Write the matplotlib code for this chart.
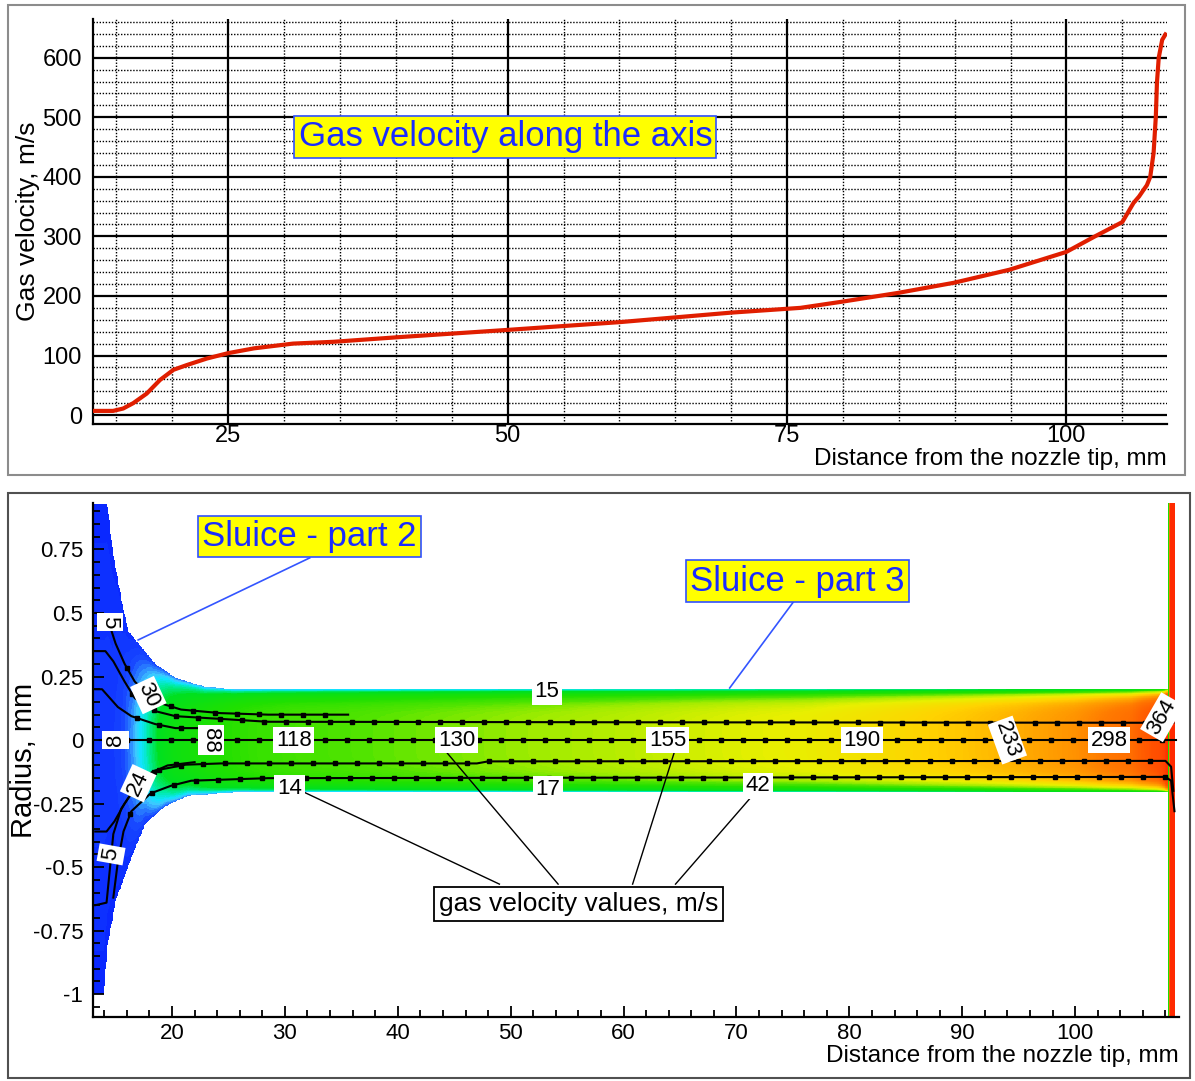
import numpy as np
import matplotlib as mpl
mpl.use('Agg')
from matplotlib import pyplot as plt
from matplotlib.colors import LinearSegmentedColormap, Normalize
from matplotlib.patches import Rectangle

plt.rcParams['font.family'] = ['Liberation Sans', 'DejaVu Sans']

# ---- top chart: gas velocity along the axis ----
dist = [12.9, 14.7, 15.6, 16.5, 17.7, 18.9, 20.1, 21.3, 23.1, 25.0, 27.3, 30.8, 34.4, 40.4,
        50, 60, 70, 76.2, 79.8, 84.9, 89.9, 94.9, 100, 102.45, 105.0, 106.0, 106.5, 106.9,
        107.2, 107.5, 107.8, 108.0, 108.1, 108.26, 108.57, 108.86]
vel = [7, 7, 11, 20, 36, 59, 76, 84, 95, 104, 112, 120, 123, 131,
       143, 156, 172, 180, 190, 205, 222, 244, 274, 299, 324, 356, 367, 378,
       386, 400, 440, 501, 558, 600, 630, 639]

# ---- bottom chart: nozzle geometry (radius, mm) ----
wall_up_x = [13.0, 14.25, 14.7, 15.5, 16.1, 17.0, 18.5, 20.3, 22.9, 25.6, 108.4]
wall_up_r = [0.93, 0.93, 0.75, 0.55, 0.43, 0.38, 0.30, 0.245, 0.21, 0.20, 0.20]
wall_lo_x = [13.0, 13.9, 14.3, 15.0, 15.5, 16.4, 17.6, 19.4, 21.4, 25.8, 108.4]
wall_lo_r = [-1.0, -1.0, -0.8, -0.63, -0.57, -0.46, -0.33, -0.26, -0.22, -0.205, -0.205]

# streamlines
sA_x = [13.3, 14.2, 15.0, 15.8, 16.7, 17.3, 17.9, 18.9, 20.8, 24.3, 28.5, 35.6]
sA_r = [0.50, 0.49, 0.38, 0.30, 0.23, 0.205, 0.17, 0.146, 0.12, 0.106, 0.10, 0.10]
sB_x = [13.2, 14.1, 14.8, 15.8, 16.7, 18.5, 20.3, 28.5, 60, 108.0, 108.7]
sB_r = [0.35, 0.35, 0.31, 0.23, 0.165, 0.114, 0.094, 0.072, 0.07, 0.068, 0.068]
sC_x = [13.2, 13.8, 15.2, 16.4, 18.5, 20.3, 22.3]
sC_r = [0.20, 0.20, 0.13, 0.094, 0.063, 0.047, 0.047]
s0_x = [13.6, 108.9]
s0_r = [0.0, 0.0]
sD_x = [13.2, 14.2, 14.9, 15.8, 17.0, 18.1, 19.6, 22.0]
sD_r = [-0.36, -0.36, -0.32, -0.25, -0.17, -0.13, -0.10, -0.087]
sE_x = [13.2, 14.2, 14.6, 14.8, 15.5, 17.3, 18.5, 21.2, 24.3, 47.0, 48.0, 108.0, 108.5, 108.7]
sE_r = [-0.65, -0.64, -0.46, -0.37, -0.27, -0.15, -0.12, -0.097, -0.092, -0.092, -0.084, -0.082, -0.105, -0.20]
sF_x = [14.8, 15.2, 15.7, 16.4, 18.1, 19.9, 21.7, 28.5, 108.0, 108.5, 108.8]
sF_r = [-0.62, -0.48, -0.36, -0.28, -0.21, -0.18, -0.16, -0.15, -0.145, -0.16, -0.28]
streams = [(sA_x, sA_r), (sB_x, sB_r), (sC_x, sC_r), (s0_x, s0_r),
           (sD_x, sD_r), (sE_x, sE_r), (sF_x, sF_r)]

# velocity labels (m/s)
lab_text = ['5', '30', '8', '88', '118', '130', '155', '190', '233', '298', '364',
            '15', '17', '14', '42', '24', '5']
lab_pos = [(14.5, 0.465), (17.9, 0.177), (15.0, 0.0), (23.45, 0.0), (30.8, 0.0),
           (45.2, 0.0), (63.9, 0.0), (81.1, 0.0), (94.0, 0.0), (103.0, 0.0),
           (107.7, 0.09), (53.2, 0.19), (53.3, -0.195), (30.4, -0.19), (71.9, -0.18),
           (17.0, -0.17), (14.6, -0.45)]
lab_rot = [-90, -65, 90, -90, 0, 0, 0, 0, -70, 0, 60, 0, 0, 0, 0, 65, 80]

# colour scale for velocity
cmap_v = [0, 10, 16, 22, 28, 38, 55, 100, 125, 145, 175, 210, 250, 300, 380, 640]
cmap_c = ['#0a28ff', '#1848ff', '#2a80ff', '#40c8ff', '#10e4ff', '#00eca0', '#00e020',
          '#20e000', '#50e400', '#a0ec00', '#e8f000', '#ffd400', '#ffa800', '#ff7a00',
          '#ff5000', '#ff2800']

fig = plt.figure(figsize=(11.95, 10.81), dpi=100)
W, H = 1195.0, 1081.0

def fbox(x0, y0, x1, y1):
    return [x0 / W, 1 - y1 / H, (x1 - x0) / W, (y1 - y0) / H]

fig.add_artist(Rectangle((8 / W, 1 - 475 / H), 1177 / W, 470 / H, transform=fig.transFigure,
                         fill=False, ec='#8c8c8c', lw=1.5))
fig.add_artist(Rectangle((8 / W, 1 - 1078 / H), 1182 / W, 585 / H, transform=fig.transFigure,
                         fill=False, ec='#505050', lw=1.5))

# ================= top panel =================
ax1 = fig.add_axes(fbox(93, 19, 1167, 424))
ax1.plot(dist, vel, color='#e01e00', lw=3, zorder=3)
ax1.set_xlim(12.9, 109.0)
ax1.set_ylim(-15, 665)
ax1.set_xticks([25, 50, 75, 100])
ax1.set_xticks([x for x in range(15, 110, 5) if x % 25], minor=True)
ax1.set_yticks(range(0, 601, 100))
ax1.set_yticks([y for y in range(20, 661, 20) if y % 100], minor=True)
ax1.grid(which='major', color='black', lw=1.6)
ax1.grid(which='minor', color='black', lw=1.0, ls=(0, (1, 1.2)))
ax1.set_axisbelow(True)
ax1.tick_params(which='both', length=0, labelsize=17, pad=8)
ax1.tick_params(axis='x', pad=1)
for s in ['top', 'right']:
    ax1.spines[s].set_visible(False)
for s in ['left', 'bottom']:
    ax1.spines[s].set_linewidth(1.6)
ax1.set_xlabel('Distance from the nozzle tip, mm', fontsize=17.5, loc='right')
ax1.xaxis.set_label_coords(1.0, -0.06)
ax1.set_ylabel('Gas velocity, m/s', fontsize=19, labelpad=2)
ax1.text(49.8, 467, 'Gas velocity along the axis', fontsize=25, color='#1a2cff',
         ha='center', va='center',
         bbox=dict(boxstyle='square,pad=0.12', fc='#ffff00', ec='#3050ff', lw=1.2))

# ================= bottom panel =================
ax2 = fig.add_axes(fbox(93, 503, 1179, 1017))
x0, x1, y0, y1 = 13.0, 109.2, -1.09, 0.933
gx = np.linspace(x0, x1, 1500)
gy = np.linspace(y0, y1, 800)
X, Y = np.meshgrid(gx, gy)
up = np.interp(X, wall_up_x, wall_up_r)
lo = np.interp(X, wall_lo_x, wall_lo_r)
inside = (Y <= up) & (Y >= lo) & (X <= 108.4)
vc = np.interp(X, dist, vel)
s = np.clip(np.where(Y >= 0, Y / up, Y / lo), 0, 1)
p = np.interp(X, [14.0, 20.0, 26.0], [1.2, 3.0, 6.0])
V = vc * (0.2 + 0.8 * (1 - s ** p))
strip = (X >= 108.3) & (X <= 108.9)
V = np.where(strip, np.interp(X, [108.3, 108.45], [90, 620]), V)
V = np.ma.masked_where(~(inside | strip), V)
cmap = LinearSegmentedColormap.from_list('vel', [(v / 640, c) for v, c in zip(cmap_v, cmap_c)])
ax2.imshow(V, extent=(x0, x1, y0, y1), origin='lower', aspect='auto', cmap=cmap,
           norm=Normalize(0, 640), interpolation='nearest', zorder=1)

for i, (sx, sr) in enumerate(streams):
    ax2.plot(sx, sr, color='black', lw=1.5, zorder=3)
    start = max(sx[0] + 1.5, 16.0) + 0.45 * (i % 3)
    xm = np.arange(start, sx[-1] - 0.4, 1.95)
    ax2.plot(xm, np.interp(xm, sx, sr), ls='none', marker='s', ms=3.5, color='black', zorder=3)

for t, (lx, ly), rot in zip(lab_text, lab_pos, lab_rot):
    ax2.text(lx, ly, t, fontsize=16, rotation=rot, ha='center', va='center', zorder=5,
             rotation_mode='anchor',
             bbox=dict(boxstyle='square,pad=0.12', fc='white', ec='none'))

# callout for velocity values
call_from = [(49.0, -0.567), (54.2, -0.567), (60.8, -0.567), (64.6, -0.567)]
call_to = [(31.3, -0.197), (44.3, -0.047), (64.5, -0.047), (71.6, -0.209)]
for (ax_, ay_), (bx_, by_) in zip(call_from, call_to):
    ax2.plot([ax_, bx_], [ay_, by_], color='black', lw=1.0, zorder=4)
ax2.text(56.0, -0.646, 'gas velocity values, m/s', fontsize=19, ha='center', va='center',
         zorder=6, bbox=dict(boxstyle='square,pad=0.18', fc='white', ec='black', lw=1.3))

# sluice labels
ax2.plot([32.2, 17.0], [0.717, 0.394], color='#3355ff', lw=1.2, zorder=4)
ax2.plot([75.1, 69.4], [0.547, 0.205], color='#3355ff', lw=1.2, zorder=4)
ax2.text(32.2, 0.80, 'Sluice - part 2', fontsize=25, color='#1a2cff', ha='center',
         va='center', zorder=6,
         bbox=dict(boxstyle='square,pad=0.12', fc='#ffff00', ec='#3050ff', lw=1.2))
ax2.text(75.4, 0.626, 'Sluice - part 3', fontsize=25, color='#1a2cff', ha='center',
         va='center', zorder=6,
         bbox=dict(boxstyle='square,pad=0.12', fc='#ffff00', ec='#3050ff', lw=1.2))

ax2.set_xlim(x0, x1)
ax2.set_ylim(y0, y1)
ax2.set_xticks(range(20, 101, 10))
ax2.set_xticks([x for x in range(14, 109, 2) if x % 10], minor=True)
ax2.set_yticks([0.75, 0.5, 0.25, 0, -0.25, -0.5, -0.75, -1])
ax2.set_yticklabels(['0.75', '0.5', '0.25', '0', '-0.25', '-0.5', '-0.75', '-1'])
ax2.set_yticks([v / 100 for v in range(-105, 95, 5) if v % 25], minor=True)
ax2.tick_params(which='both', direction='in', labelsize=16, width=1.3)
ax2.tick_params(which='major', length=8)
ax2.tick_params(which='minor', length=5)
ax2.tick_params(axis='y', pad=7)
ax2.tick_params(axis='x', pad=4)
for s in ['top', 'right']:
    ax2.spines[s].set_visible(False)
for s in ['left', 'bottom']:
    ax2.spines[s].set_linewidth(1.6)
ax2.set_xlabel('Distance from the nozzle tip, mm', fontsize=17.5, loc='right')
ax2.xaxis.set_label_coords(1.0, -0.054)
ax2.set_ylabel('Radius, mm', fontsize=21)
ax2.yaxis.set_label_coords(-0.051, 0.5)

fig.savefig('out.png', dpi=100)
